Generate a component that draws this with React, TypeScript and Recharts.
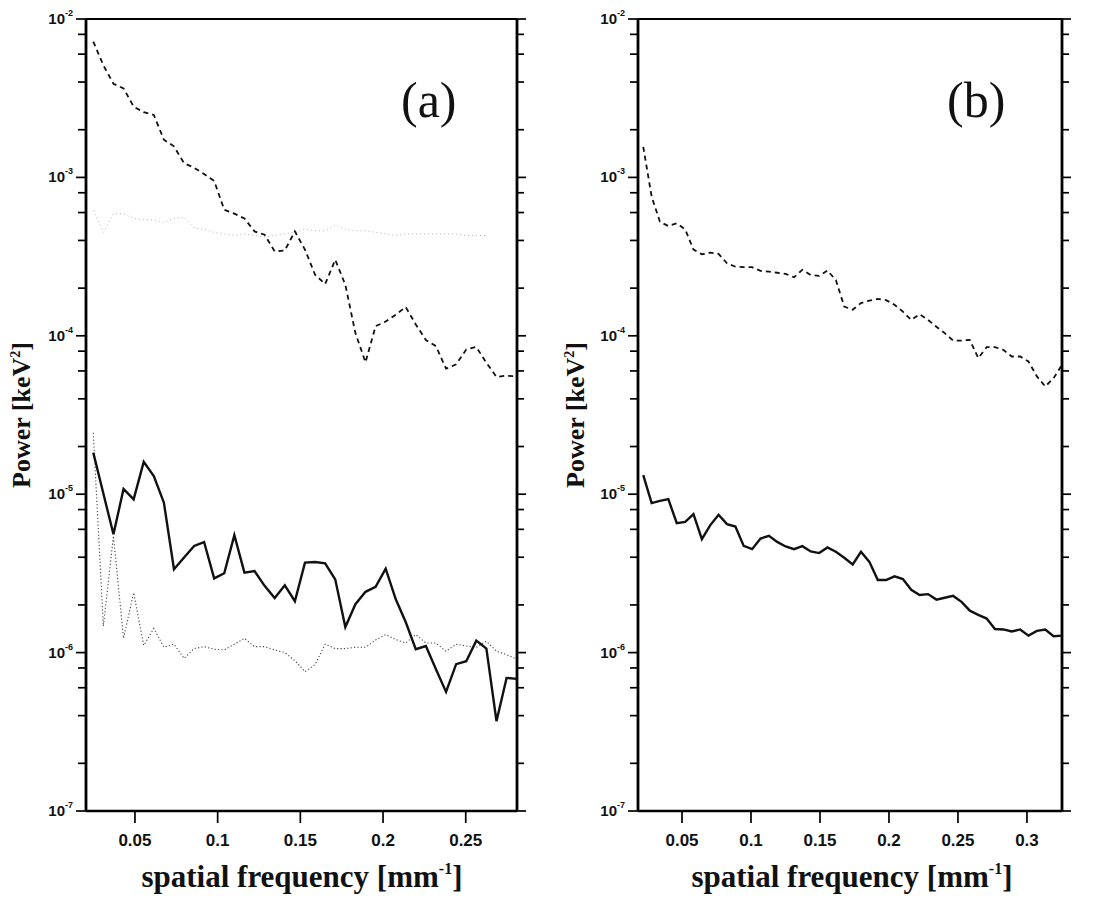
import { Line, LineChart, ReferenceLine, XAxis, YAxis } from "recharts";

// spatial frequency sample points [mm^-1]
const freqA = [
  0.0248, 0.0309, 0.037, 0.0431, 0.0492, 0.0553, 0.0614, 0.0675, 0.0736, 0.0797,
  0.0858, 0.0918, 0.0979, 0.104, 0.1101, 0.1162, 0.1223, 0.1284, 0.1345, 0.1406,
  0.1467, 0.1528, 0.1589, 0.165, 0.1711, 0.1772, 0.1833, 0.1894, 0.1955, 0.2016,
  0.2077, 0.2137, 0.2198, 0.2259, 0.232, 0.2381, 0.2442, 0.2503, 0.2564, 0.2625,
  0.2686, 0.2747, 0.2808,
];

const dashedA = [
  7.2e-3, 5.1e-3, 3.9e-3, 3.65e-3, 2.8e-3, 2.58e-3, 2.48e-3, 1.73e-3, 1.57e-3, 1.23e-3,
  1.15e-3, 1.05e-3, 9.5e-4, 6.25e-4, 5.9e-4, 5.5e-4, 4.56e-4, 4.35e-4, 3.41e-4, 3.46e-4,
  4.56e-4, 3.5e-4, 2.43e-4, 2.12e-4, 3.02e-4, 2.1e-4, 1.04e-4, 6.8e-5, 1.15e-4, 1.23e-4,
  1.36e-4, 1.52e-4, 1.18e-4, 9.4e-5, 8.6e-5, 6.2e-5, 6.6e-5, 8.2e-5, 8.5e-5, 6.75e-5,
  5.5e-5, 5.6e-5, 5.55e-5,
];

const faintA = [
  6.2e-4, 4.5e-4, 5.9e-4, 5.9e-4, 5.5e-4, 5.4e-4, 5.4e-4, 5.2e-4, 5.5e-4, 5.6e-4,
  4.8e-4, 4.7e-4, 4.5e-4, 4.4e-4, 4.3e-4, 4.4e-4, 4.3e-4, 4.2e-4, 4.3e-4, 4.4e-4,
  4.5e-4, 4.7e-4, 4.6e-4, 4.6e-4, 5.0e-4, 4.7e-4, 4.6e-4, 4.6e-4, 4.5e-4, 4.4e-4,
  4.3e-4, 4.4e-4, 4.4e-4, 4.4e-4, 4.4e-4, 4.4e-4, 4.4e-4, 4.3e-4, 4.3e-4, 4.3e-4,
  null, null, null,
];

const solidA = [
  1.83e-5, 1.01e-5, 5.58e-6, 1.08e-5, 9.27e-6, 1.6e-5, 1.3e-5, 8.84e-6, 3.36e-6, 3.98e-6,
  4.71e-6, 4.99e-6, 2.94e-6, 3.17e-6, 5.51e-6, 3.2e-6, 3.27e-6, 2.64e-6, 2.21e-6, 2.66e-6,
  2.11e-6, 3.7e-6, 3.73e-6, 3.66e-6, 2.9e-6, 1.45e-6, 2.02e-6, 2.42e-6, 2.6e-6, 3.39e-6,
  2.17e-6, 1.56e-6, 1.05e-6, 1.1e-6, 7.85e-7, 5.65e-7, 8.45e-7, 8.83e-7, 1.19e-6, 1.06e-6,
  3.69e-7, 6.92e-7, 6.82e-7,
];

const dottedA = [
  2.44e-5, 1.47e-6, 5.45e-6, 1.23e-6, 2.39e-6, 1.11e-6, 1.42e-6, 1.08e-6, 1.13e-6, 9.2e-7,
  1.06e-6, 1.09e-6, 1.05e-6, 1.04e-6, 1.13e-6, 1.23e-6, 1.09e-6, 1.09e-6, 1.04e-6, 1.0e-6,
  8.9e-7, 7.57e-7, 8.4e-7, 1.13e-6, 1.06e-6, 1.06e-6, 1.08e-6, 1.08e-6, 1.2e-6, 1.3e-6,
  1.21e-6, 1.15e-6, 1.3e-6, 1.15e-6, 1.15e-6, 1.02e-6, 1.13e-6, 1.1e-6, 1.08e-6, 1.18e-6,
  1.02e-6, 9.7e-7, 9.1e-7,
];

const freqB = [
  0.0219, 0.028, 0.034, 0.0401, 0.0462, 0.0523, 0.0583, 0.0644, 0.0705, 0.0765,
  0.0826, 0.0887, 0.0947, 0.1008, 0.1069, 0.113, 0.119, 0.1251, 0.1312, 0.1372,
  0.1433, 0.1494, 0.1554, 0.1615, 0.1676, 0.1737, 0.1797, 0.1858, 0.1919, 0.1979,
  0.204, 0.2101, 0.2161, 0.2222, 0.2283, 0.2344, 0.2404, 0.2465, 0.2526, 0.2586,
  0.2647, 0.2708, 0.2768, 0.2829, 0.289, 0.2951, 0.3011, 0.3072, 0.3133, 0.3193,
  0.3254,
];

const dashedB = [
  1.56e-3, 7.55e-4, 5.25e-4, 4.93e-4, 5.13e-4, 4.7e-4, 3.5e-4, 3.27e-4, 3.35e-4, 3.29e-4,
  2.87e-4, 2.73e-4, 2.71e-4, 2.71e-4, 2.57e-4, 2.54e-4, 2.5e-4, 2.46e-4, 2.34e-4, 2.61e-4,
  2.42e-4, 2.39e-4, 2.58e-4, 2.25e-4, 1.53e-4, 1.46e-4, 1.61e-4, 1.67e-4, 1.71e-4, 1.68e-4,
  1.57e-4, 1.42e-4, 1.26e-4, 1.37e-4, 1.26e-4, 1.14e-4, 1.04e-4, 9.33e-5, 9.33e-5, 9.43e-5,
  7.23e-5, 8.48e-5, 8.48e-5, 8.15e-5, 7.4e-5, 7.4e-5, 6.89e-5, 5.54e-5, 4.79e-5, 5.4e-5,
  6.56e-5,
];

const solidB = [
  1.32e-5, 8.78e-6, 9.08e-6, 9.3e-6, 6.56e-6, 6.69e-6, 7.48e-6, 5.2e-6, 6.38e-6, 7.41e-6,
  6.47e-6, 6.25e-6, 4.72e-6, 4.5e-6, 5.25e-6, 5.46e-6, 5.0e-6, 4.68e-6, 4.5e-6, 4.7e-6,
  4.35e-6, 4.25e-6, 4.61e-6, 4.33e-6, 3.97e-6, 3.6e-6, 4.33e-6, 3.74e-6, 2.87e-6, 2.87e-6,
  3.03e-6, 2.91e-6, 2.49e-6, 2.31e-6, 2.34e-6, 2.16e-6, 2.22e-6, 2.28e-6, 2.09e-6, 1.84e-6,
  1.73e-6, 1.64e-6, 1.41e-6, 1.4e-6, 1.36e-6, 1.4e-6, 1.28e-6, 1.37e-6, 1.4e-6, 1.27e-6,
  1.28e-6,
];

const powerTicks = [
  1e-7, 2e-7, 4e-7, 6e-7, 8e-7, 1e-6, 2e-6, 4e-6, 6e-6, 8e-6, 1e-5, 2e-5, 4e-5, 6e-5,
  8e-5, 1e-4, 2e-4, 4e-4, 6e-4, 8e-4, 1e-3, 2e-3, 4e-3, 6e-3, 8e-3, 1e-2,
];
const freqTicksA = [0.05, 0.1, 0.15, 0.2, 0.25];
const freqTicksB = [0.05, 0.1, 0.15, 0.2, 0.25, 0.3];

const rowsA = freqA.map((x, i) => ({
  x,
  dashed: dashedA[i],
  faint: faintA[i],
  solid: solidA[i],
  dotted: dottedA[i],
}));

const rowsB = freqB.map((x, i) => ({
  x,
  dashed: dashedB[i],
  solid: solidB[i],
}));

const sans = "'Liberation Sans', Arial, Helvetica, sans-serif";
const serif = "'Liberation Serif', 'Times New Roman', serif";
const ink = "#111";

// tick geometry (tick lines are drawn by the tick components themselves)
const Y_TICK = 8;
const Y_MAJOR = 10;
const Y_GAP = 5;
const R_TICK = 7;
const X_TICK = 12;
const X_GAP = 11;

const isDecade = (v: number) => {
  const e = Math.round(Math.log10(v));
  return Math.abs(v / Math.pow(10, e) - 1) < 1e-6;
};

function LeftTick({ x, y, payload }: any) {
  const v = payload.value;
  const major = isDecade(v);
  const axisX = x + Y_TICK + Y_GAP;
  return (
    <g>
      <line x1={axisX - (major ? Y_MAJOR : Y_TICK)} x2={axisX} y1={y} y2={y} stroke="#000" strokeWidth={1.7} />
      {major && (
        <text x={x} y={y} dy={5} textAnchor="end" fontFamily={sans} fontWeight="bold" fontSize={15} fill={ink}>
          <tspan>10</tspan>
          <tspan dy={-8} fontSize={9}>{`${Math.round(Math.log10(v))}`}</tspan>
        </text>
      )}
    </g>
  );
}

function RightTick({ x, y, payload }: any) {
  const major = isDecade(payload.value);
  const axisX = x - R_TICK;
  return (
    <line x1={axisX} x2={axisX + (major ? R_TICK + 2 : R_TICK)} y1={y} y2={y} stroke="#000" strokeWidth={1.7} />
  );
}

function FreqTick({ x, y, payload }: any) {
  const axisY = y - X_TICK - X_GAP;
  return (
    <g>
      <line x1={x} x2={x} y1={axisY} y2={axisY + X_TICK} stroke="#000" strokeWidth={1.7} />
      <text x={x} y={y} dy="0.71em" textAnchor="middle" fontFamily={sans} fontWeight="bold" fontSize={17} fill={ink}>
        {String(payload.value)}
      </text>
    </g>
  );
}

function Panel({ rows, domain, ticks, width, marginRight, faint }: any) {
  return (
    <LineChart
      width={width}
      height={902}
      data={rows}
      margin={{ top: 19, right: marginRight, bottom: 31, left: 26 }}
    >
      <XAxis
        dataKey="x"
        type="number"
        domain={domain}
        allowDataOverflow
        ticks={ticks}
        interval={0}
        tickSize={X_TICK}
        tickMargin={X_GAP}
        height={60}
        axisLine={false}
        tickLine={false}
        tick={<FreqTick />}
      />
      <YAxis
        scale="log"
        domain={[1e-7, 1e-2]}
        allowDataOverflow
        ticks={powerTicks}
        interval={0}
        width={60}
        tickSize={Y_TICK}
        tickMargin={Y_GAP}
        axisLine={false}
        tickLine={false}
        tick={<LeftTick />}
      />
      <YAxis
        yAxisId="right"
        orientation="right"
        scale="log"
        domain={[1e-7, 1e-2]}
        allowDataOverflow
        ticks={powerTicks}
        interval={0}
        width={12}
        tickSize={R_TICK}
        tickMargin={0}
        axisLine={false}
        tickLine={false}
        tick={<RightTick />}
      />
      <ReferenceLine x={domain[0]} stroke="#000" strokeWidth={2.8} />
      <ReferenceLine x={domain[1]} stroke="#000" strokeWidth={2.8} />
      <ReferenceLine y={1e-2} stroke="#000" strokeWidth={2.2} />
      <ReferenceLine y={1e-7} stroke="#000" strokeWidth={2.6} />
      {faint && (
        <Line
          dataKey="faint"
          type="linear"
          stroke="#b4b4b4"
          strokeWidth={1}
          strokeDasharray="1 3"
          dot={false}
          isAnimationActive={false}
        />
      )}
      <Line
        dataKey="dashed"
        type="linear"
        stroke={ink}
        strokeWidth={1.8}
        strokeDasharray="5 4"
        dot={false}
        isAnimationActive={false}
      />
      {faint && (
        <Line
          dataKey="dotted"
          type="linear"
          stroke="#444"
          strokeWidth={1.1}
          strokeDasharray="1.2 2.2"
          dot={false}
          isAnimationActive={false}
        />
      )}
      <Line
        dataKey="solid"
        type="linear"
        stroke={ink}
        strokeWidth={2.4}
        dot={false}
        isAnimationActive={false}
      />
    </LineChart>
  );
}

const panelLabel = {
  position: "absolute" as const,
  top: 75,
  fontFamily: serif,
  fontSize: 50,
  lineHeight: "50px",
  color: ink,
};

function Titles() {
  const yTitles = [30, 584];
  const xTitles = [302, 852];
  return (
    <svg
      width={1094}
      height={902}
      style={{ position: "absolute", left: 0, top: 0, pointerEvents: "none" }}
    >
      {yTitles.map((cx) => (
        <text
          key={`y${cx}`}
          x={cx}
          y={415}
          transform={`rotate(-90, ${cx}, 415)`}
          textAnchor="middle"
          fontFamily={serif}
          fontWeight="bold"
          fontSize={26}
          fill={ink}
        >
          Power [keV
          <tspan dy={-10} fontSize={14}>2</tspan>
          <tspan dy={10}>]</tspan>
        </text>
      ))}
      {xTitles.map((cx) => (
        <text
          key={`x${cx}`}
          x={cx}
          y={887}
          textAnchor="middle"
          fontFamily={serif}
          fontWeight="bold"
          fontSize={31}
          fill={ink}
        >
          spatial frequency [mm
          <tspan dy={-13} fontSize={16}>-1</tspan>
          <tspan dy={13}>]</tspan>
        </text>
      ))}
    </svg>
  );
}

export default function App() {
  return (
    <div style={{ position: "absolute", left: 0, top: 0, width: 1094, height: 902, background: "#fff" }}>
      <div style={{ position: "absolute", left: 0, top: 0 }}>
        <Panel rows={rowsA} domain={[0.0204, 0.281]} ticks={freqTicksA} width={545} marginRight={16} faint />
      </div>
      <div style={{ position: "absolute", left: 552, top: 0 }}>
        <Panel rows={rowsB} domain={[0.0181, 0.3254]} ticks={freqTicksB} width={542} marginRight={20} />
      </div>
      <div style={{ ...panelLabel, left: 401 }}>(a)</div>
      <div style={{ ...panelLabel, left: 947 }}>(b)</div>
      <Titles />
    </div>
  );
}
